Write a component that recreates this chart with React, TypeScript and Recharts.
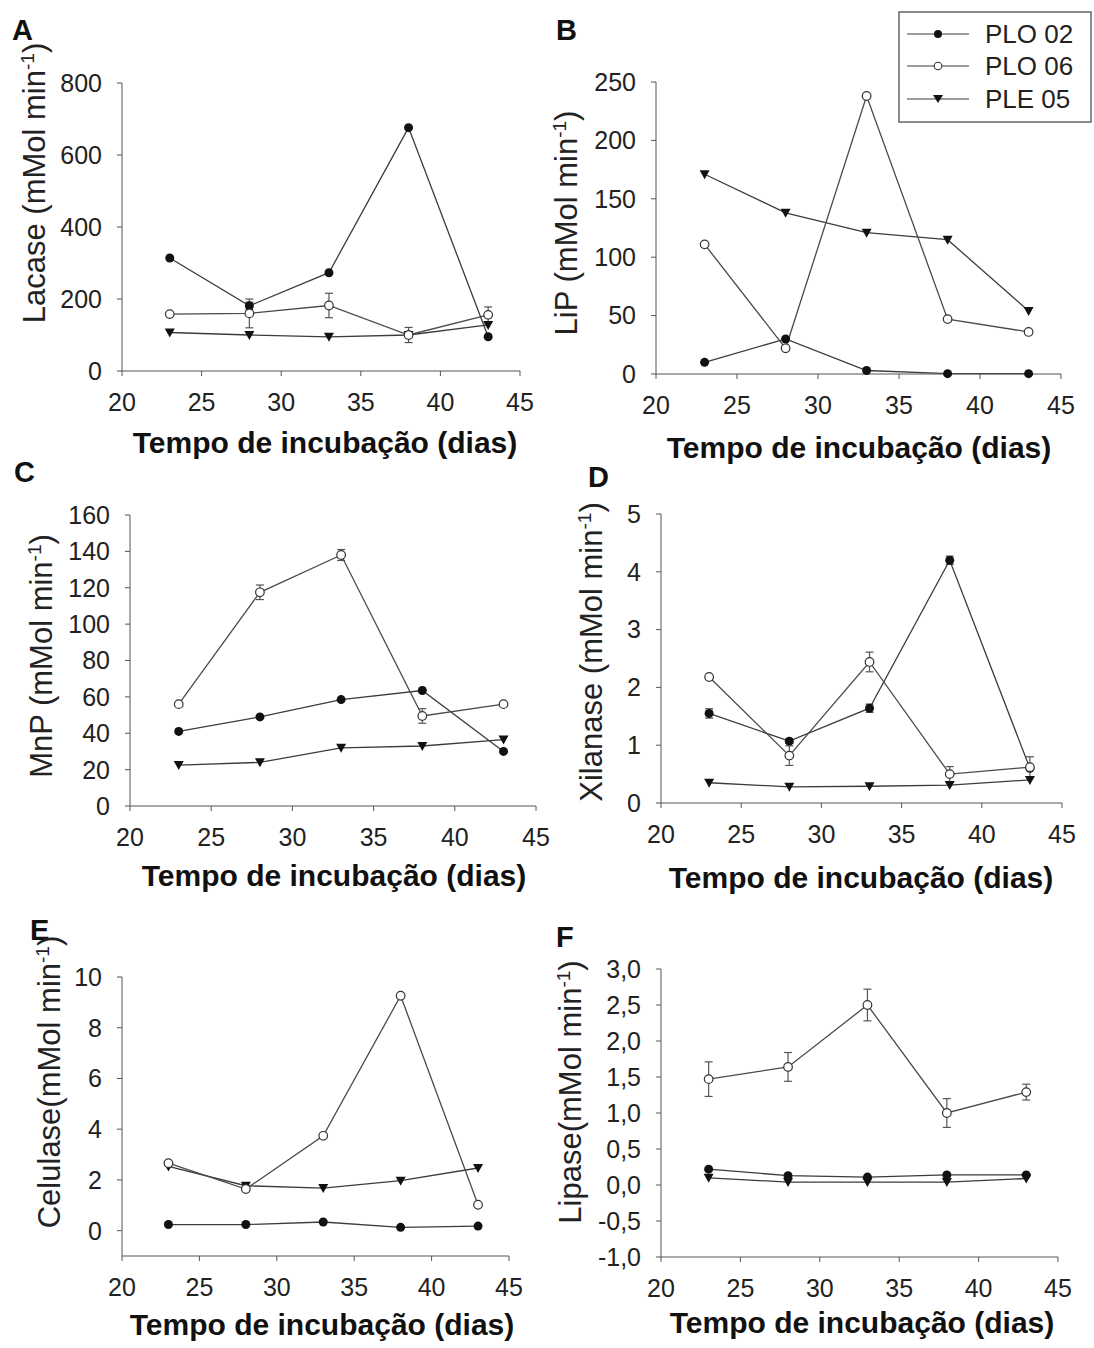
import React from "react";
import { LineChart, Line, XAxis, YAxis, ErrorBar } from "recharts";

const days = [23, 28, 33, 38, 43];
const xTicks = [20, 25, 30, 35, 40, 45];
const seriesNames = ["PLO 02", "PLO 06", "PLE 05"];
const xTitle = "Tempo de incubação (dias)";

// A - Lacase
const lacasePLO02 = [314, 181, 273, 676, 95];
const lacasePLO06 = [158, 160, 182, 100, 156];
const lacasePLE05 = [107, 100, 95, 100, 128];
const lacaseErr02 = [null, 10, null, null, null];
const lacaseErr06 = [null, 40, 34, 21, 22];

// B - LiP
const lipPLO02 = [10, 30, 3, 0.3, 0.3];
const lipPLO06 = [111, 22, 238, 47, 36];
const lipPLE05 = [171, 138, 121, 115, 54];

// C - MnP
const mnpPLO02 = [41, 49, 58.5, 63.5, 30];
const mnpPLO06 = [56, 117.5, 138, 49.5, 56];
const mnpPLE05 = [22.5, 24, 32, 33, 36.5];
const mnpErr06 = [null, 4, 3, 4, null];

// D - Xilanase
const xilPLO02 = [1.55, 1.07, 1.64, 4.2, 0.6];
const xilPLO06 = [2.18, 0.82, 2.44, 0.5, 0.62];
const xilPLE05 = [0.35, 0.28, 0.29, 0.31, 0.4];
const xilErr02 = [0.08, 0.04, 0.07, 0.07, null];
const xilErr06 = [null, 0.17, 0.17, 0.13, 0.18];

// E - Celulase
const celPLO02 = [0.24, 0.24, 0.34, 0.13, 0.18];
const celPLO06 = [2.66, 1.64, 3.74, 9.26, 1.02];
const celPLE05 = [2.53, 1.77, 1.68, 1.97, 2.47];

// F - Lipase
const lipasePLO02 = [0.22, 0.13, 0.11, 0.14, 0.14];
const lipasePLO06 = [1.47, 1.64, 2.5, 1.0, 1.29];
const lipasePLE05 = [0.1, 0.04, 0.04, 0.04, 0.09];
const lipaseErr06 = [0.24, 0.2, 0.22, 0.2, 0.11];

const yTicksA = [0, 200, 400, 600, 800];
const yTicksB = [0, 50, 100, 150, 200, 250];
const yTicksC = [0, 20, 40, 60, 80, 100, 120, 140, 160];
const yTicksD = [0, 1, 2, 3, 4, 5];
const yTicksE = [0, 2, 4, 6, 8, 10];
const yTicksF = [-1, -0.5, 0, 0.5, 1, 1.5, 2, 2.5, 3];

const FONT = "'Liberation Sans', Arial, sans-serif";
const LINE = "#3c3c3c";
const AXIS = "#555";

const table = (p02: number[], p06: number[], p05: number[], e02?: (number | null)[], e06?: (number | null)[]) =>
  days.map((d, i) => ({
    day: d,
    p02: p02[i],
    p06: p06[i],
    p05: p05[i],
    e02: e02 ? e02[i] : null,
    e06: e06 ? e06[i] : null,
  }));

const FilledDot = (p: any) => <circle key={`f${p.index}`} cx={p.cx} cy={p.cy} r={4.5} fill="#111" />;
const OpenDot = (p: any) => (
  <circle key={`o${p.index}`} cx={p.cx} cy={p.cy} r={4.3} fill="#fff" stroke="#333" strokeWidth={1.2} />
);
const TriDot = (p: any) => (
  <path key={`t${p.index}`} d={`M${p.cx - 5},${p.cy - 4}L${p.cx + 5},${p.cy - 4}L${p.cx},${p.cy + 5}Z`} fill="#111" />
);

const YTitle = ({ px, py, main }: any) => (
  <text
    x={px}
    y={py}
    transform={`rotate(-90 ${px} ${py})`}
    textAnchor="middle"
    fontSize={31}
    fontFamily={FONT}
    fill="#222"
  >
    {main}
    <tspan dy={-11} fontSize={19}>-1</tspan>
    <tspan dy={11}>)</tspan>
  </text>
);

const XTitle = ({ px, py }: any) => (
  <text x={px} y={py} textAnchor="middle" fontSize={30} fontWeight="bold" fontFamily={FONT} fill="#111">
    {xTitle}
  </text>
);

const YW = 125;
const MT = 60;
const MR = 30;
const XH = 100;

interface PanelProps {
  data: any[];
  x0: number;
  x1: number;
  yTop: number;
  yBot: number;
  domain: [number, number];
  ticks: number[];
  fmt?: (v: number) => string;
  yLabel: string;
  yLabelX: number;
  yLabelY: number;
  titleX: number;
  titleY: number;
  letter: string;
  letterX: number;
  letterY: number;
  err02?: boolean;
  err06?: boolean;
}

const Panel = (p: PanelProps) => {
  const left = p.x0 - YW;
  const top = p.yTop - MT;
  const width = YW + (p.x1 - p.x0) + MR;
  const height = MT + (p.yBot - p.yTop) + XH;
  const tick = { fill: "#222", fontSize: 25, fontFamily: FONT };
  return (
    <>
      <div
        style={{
          position: "absolute",
          left: p.letterX,
          top: p.letterY - 27,
          fontFamily: FONT,
          fontWeight: "bold",
          fontSize: 29,
          lineHeight: "29px",
          color: "#111",
        }}
      >
        {p.letter}
      </div>
      <div style={{ position: "absolute", left, top }}>
        <LineChart width={width} height={height} data={p.data} margin={{ top: MT, right: MR, left: 0, bottom: 0 }}>
          <XAxis
            dataKey="day"
            type="number"
            domain={[20, 45]}
            ticks={xTicks}
            height={XH}
            tick={tick}
            tickSize={5}
            tickMargin={17}
            stroke={AXIS}
            label={<XTitle px={p.titleX - left} py={p.titleY - top} />}
          />
          <YAxis
            type="number"
            domain={p.domain}
            ticks={p.ticks}
            width={YW}
            tick={tick}
            tickSize={5}
            tickMargin={15}
            stroke={AXIS}
            tickFormatter={p.fmt}
            label={<YTitle px={p.yLabelX - left} py={p.yLabelY - top} main={p.yLabel} />}
          />
          <Line dataKey="p02" name={seriesNames[0]} stroke={LINE} strokeWidth={1.3} dot={FilledDot} activeDot={false} isAnimationActive={false}>
            {p.err02 && <ErrorBar dataKey="e02" width={4} stroke="#444" strokeWidth={1.2} direction="y" />}
          </Line>
          <Line dataKey="p05" name={seriesNames[2]} stroke={LINE} strokeWidth={1.3} dot={TriDot} activeDot={false} isAnimationActive={false} />
          <Line dataKey="p06" name={seriesNames[1]} stroke="#4a4a4a" strokeWidth={1.3} dot={OpenDot} activeDot={false} isAnimationActive={false}>
            {p.err06 && <ErrorBar dataKey="e06" width={4} stroke="#555" strokeWidth={1.2} direction="y" />}
          </Line>
        </LineChart>
      </div>
    </>
  );
};

const LegendBox = () => {
  const rows = [23, 55, 88];
  const dots = [
    (y: number) => <circle cx={40} cy={y} r={4} fill="#111" />,
    (y: number) => <circle cx={40} cy={y} r={3.8} fill="#fff" stroke="#333" strokeWidth={1.1} />,
    (y: number) => <path d={`M35,${y - 4}L45,${y - 4}L40,${y + 4}Z`} fill="#111" />,
  ];
  return (
    <svg style={{ position: "absolute", left: 898, top: 11 }} width={194} height={112}>
      <rect x={1} y={1} width={192} height={110} fill="#fff" stroke="#666" strokeWidth={1.5} />
      {seriesNames.map((n, i) => (
        <g key={n}>
          <line x1={9} x2={71} y1={rows[i]} y2={rows[i]} stroke={LINE} strokeWidth={1.2} />
          {dots[i](rows[i])}
          <text x={87} y={rows[i] + 9} fontSize={26} fontFamily={FONT} fill="#222">
            {n}
          </text>
        </g>
      ))}
    </svg>
  );
};

const comma = (v: number) => v.toFixed(1).replace(".", ",");

export default function App() {
  return (
    <div style={{ position: "absolute", left: 0, top: 0, width: 1094, height: 1348, background: "#fff" }}>
      <Panel
        data={table(lacasePLO02, lacasePLO06, lacasePLE05, lacaseErr02, lacaseErr06)}
        x0={122} x1={520} yTop={83} yBot={371}
        domain={[0, 800]} ticks={yTicksA}
        yLabel="Lacase (mMol min" yLabelX={45} yLabelY={183}
        titleX={325} titleY={453}
        letter="A" letterX={12} letterY={43}
        err02 err06
      />
      <Panel
        data={table(lipPLO02, lipPLO06, lipPLE05)}
        x0={656} x1={1061} yTop={82} yBot={374}
        domain={[0, 250]} ticks={yTicksB}
        yLabel="LiP (mMol min" yLabelX={577} yLabelY={223}
        titleX={859} titleY={458}
        letter="B" letterX={556} letterY={43}
      />
      <Panel
        data={table(mnpPLO02, mnpPLO06, mnpPLE05, undefined, mnpErr06)}
        x0={130} x1={536} yTop={515} yBot={806}
        domain={[0, 160]} ticks={yTicksC}
        yLabel="MnP (mMol min" yLabelX={52} yLabelY={656}
        titleX={334} titleY={886}
        letter="C" letterX={14} letterY={485}
        err06
      />
      <Panel
        data={table(xilPLO02, xilPLO06, xilPLE05, xilErr02, xilErr06)}
        x0={661} x1={1062} yTop={514} yBot={803}
        domain={[0, 5]} ticks={yTicksD}
        yLabel="Xilanase (mMol min" yLabelX={602} yLabelY={652}
        titleX={861} titleY={888}
        letter="D" letterX={588} letterY={490}
        err02 err06
      />
      <Panel
        data={table(celPLO02, celPLO06, celPLE05)}
        x0={122} x1={509} yTop={977} yBot={1256}
        domain={[-1, 10]} ticks={yTicksE}
        yLabel="Celulase(mMol min" yLabelX={60} yLabelY={1082}
        titleX={322} titleY={1335}
        letter="E" letterX={30} letterY={943}
      />
      <Panel
        data={table(lipasePLO02, lipasePLO06, lipasePLE05, undefined, lipaseErr06)}
        x0={661} x1={1058} yTop={969} yBot={1257}
        domain={[-1, 3]} ticks={yTicksF} fmt={comma}
        yLabel="Lipase(mMol min" yLabelX={581} yLabelY={1092}
        titleX={862} titleY={1333}
        letter="F" letterX={556} letterY={950}
        err06
      />
      <LegendBox />
    </div>
  );
}
